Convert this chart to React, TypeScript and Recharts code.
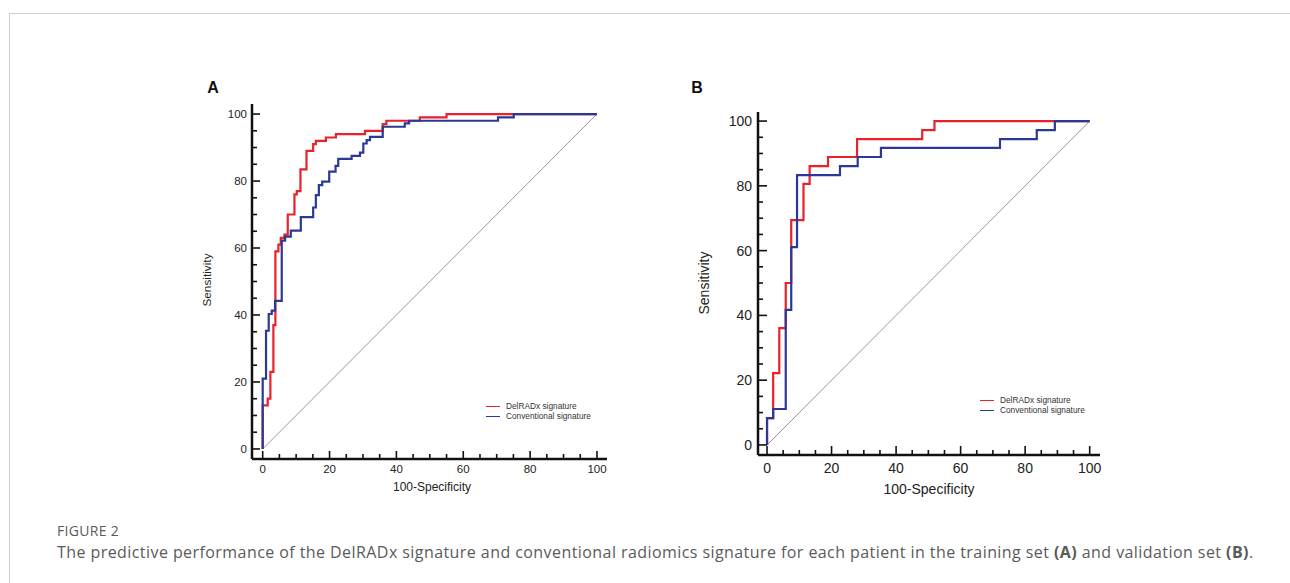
import { LineChart, Line, XAxis, YAxis, Legend } from "recharts";

const FONT = '"Liberation Sans", Arial, Helvetica, sans-serif';
const CAPTION_FONT = '"Open Sans", "Noto Sans", sans-serif';

const AXIS_TICKS = [0, 5, 10, 15, 20, 25, 30, 35, 40, 45, 50, 55, 60, 65, 70, 75, 80, 85, 90, 95, 100];
const CHANCE_X = [0, 100];
const CHANCE_Y = [0, 100];

// training set (A): operating points (100-specificity, sensitivity)
const trainDelX = [0, 0, 1.5, 2.3, 3.2, 3.8, 4.7, 5.4, 6.5, 7.5, 9.5, 10.2, 11.3, 13.1, 15.1, 15.9, 18.9, 21.9, 30.6, 35.9, 37, 47, 55, 100];
const trainDelY = [0, 13, 15, 23, 37, 59, 61, 63, 64, 70, 76, 77, 83.5, 89, 91, 92, 93, 94, 95, 97, 98, 99, 100, 100];
const trainConvX = [0, 0, 1, 1.8, 2.7, 3.7, 5.7, 6.7, 8.4, 11.4, 15.1, 15.9, 16.8, 17.8, 19.9, 21.8, 22.6, 26.6, 29.1, 30.1, 31.1, 32.1, 35.9, 42.5, 43.8, 70.4, 75.1, 100];
const trainConvY = [0, 21, 35.3, 40.3, 41.3, 44.2, 62.2, 63.4, 65.2, 69.2, 72.1, 75.8, 78.8, 79.8, 82.8, 84.5, 86.6, 87.5, 88.5, 91.2, 92.2, 93.2, 96.2, 97.2, 98, 99, 100, 100];

// validation set (B)
const validDelX = [0, 0, 1.9, 3.8, 5.8, 7.5, 11.3, 13.2, 18.9, 27.9, 48.1, 51.9, 100];
const validDelY = [0, 8.3, 22.2, 36.1, 50, 69.4, 80.6, 86.1, 88.9, 94.4, 97.2, 100, 100];
const validConvX = [0, 0, 1.9, 5.8, 7.5, 9.3, 22.6, 28.1, 35.3, 72.2, 83.6, 89.2, 100];
const validConvY = [0, 8.3, 11.1, 41.7, 61.1, 83.3, 86.1, 88.9, 91.7, 94.4, 97.2, 100, 100];

const SERIES_NAMES = ["DelRADx signature", "Conventional signature"];
const RED = "#e8222a";
const BLUE = "#2b3996";
const Y_AXIS_W = 30;
const X_AXIS_H = 30;

const toPoints = (xs: number[], ys: number[]) => xs.map((x, i) => ({ x, y: ys[i] }));

function RocLegend({ payload }: any) {
  const items = SERIES_NAMES.map((n) => (payload || []).find((p: any) => p.value === n)).filter(Boolean);
  return (
    <div style={{ fontFamily: FONT, fontSize: 8.3, color: "#333", lineHeight: "10px" }}>
      {items.map((p: any) => (
        <div key={p.value} style={{ display: "flex", alignItems: "center", whiteSpace: "nowrap" }}>
          <span style={{ width: 14, height: 0, borderTop: `1.6px solid ${p.color}`, marginRight: 6 }} />
          <span>{p.value}</span>
        </div>
      ))}
    </div>
  );
}

type PanelProps = {
  letter: string;
  left: number;
  top: number;
  width: number;
  height: number;
  margin: { top: number; right: number; bottom: number; left: number };
  xDomain: [number, number];
  yDomain: [number, number];
  tickFont: number;
  yMargin: number;
  xMargin: number;
  major: number;
  legend: { left: number; top: number };
  letterPos: { x: number; y: number };
  yTitle: { x: number; y: number; size: number };
  xTitle: { x: number; y: number; size: number };
  del: { x: number; y: number }[];
  conv: { x: number; y: number }[];
};

function RocPanel(p: PanelProps) {
  // axis lines sit at the plot edges; ticks point into the plot
  const axisX = p.margin.left + Y_AXIS_W;
  const axisY = p.height - p.margin.bottom - X_AXIS_H;
  const yTick = (props: any) => {
    const { y, payload } = props;
    const isMajor = payload.value % 20 === 0;
    return (
      <g>
        <line x1={axisX} x2={axisX + (isMajor ? p.major : 5)} y1={y} y2={y} stroke="#111" strokeWidth={1.6} />
        {isMajor && (
          <text x={axisX - p.yMargin} y={y} dy="0.35em" textAnchor="end" fontSize={p.tickFont} fontFamily={FONT} fill="#222">
            {payload.value}
          </text>
        )}
      </g>
    );
  };
  const xTick = (props: any) => {
    const { x, payload } = props;
    const isMajor = payload.value % 20 === 0;
    return (
      <g>
        <line x1={x} x2={x} y1={axisY} y2={axisY - (isMajor ? p.major : 5)} stroke="#111" strokeWidth={1.6} />
        {isMajor && (
          <text x={x} y={axisY + p.xMargin} dy="0.71em" textAnchor="middle" fontSize={p.tickFont} fontFamily={FONT} fill="#222">
            {payload.value}
          </text>
        )}
      </g>
    );
  };
  return (
    <>
      <div style={{ position: "absolute", left: p.left, top: p.top, width: p.width, height: p.height }}>
        <LineChart width={p.width} height={p.height} margin={p.margin}>
          <XAxis
            type="number"
            dataKey="x"
            domain={p.xDomain}
            ticks={AXIS_TICKS}
            interval={0}
            allowDataOverflow
            tickLine={false}
            tick={xTick}
            height={X_AXIS_H}
            axisLine={{ stroke: "#111", strokeWidth: 2.5 }}
          />
          <YAxis
            type="number"
            dataKey="y"
            domain={p.yDomain}
            ticks={AXIS_TICKS}
            interval={0}
            allowDataOverflow
            tickLine={false}
            tick={yTick}
            width={Y_AXIS_W}
            axisLine={{ stroke: "#111", strokeWidth: 2.5 }}
          />
          <Line
            data={toPoints(CHANCE_X, CHANCE_Y)}
            dataKey="y"
            name="chance"
            type="linear"
            stroke="#a8919c"
            strokeWidth={1}
            dot={false}
            activeDot={false}
            legendType="none"
            isAnimationActive={false}
          />
          <Line
            data={p.del}
            dataKey="y"
            name={SERIES_NAMES[0]}
            type="stepAfter"
            stroke={RED}
            strokeWidth={2.2}
            dot={false}
            activeDot={false}
            isAnimationActive={false}
          />
          <Line
            data={p.conv}
            dataKey="y"
            name={SERIES_NAMES[1]}
            type="stepAfter"
            stroke={BLUE}
            strokeWidth={2.2}
            dot={false}
            activeDot={false}
            isAnimationActive={false}
          />
          <Legend
            layout="vertical"
            align="center"
            verticalAlign="middle"
            wrapperStyle={{ left: p.legend.left, top: p.legend.top, width: "auto", height: "auto" }}
            content={<RocLegend />}
          />
        </LineChart>
      </div>
      <div
        style={{
          position: "absolute",
          left: p.letterPos.x,
          top: p.letterPos.y,
          transform: "translate(-50%, -50%)",
          fontFamily: FONT,
          fontWeight: 700,
          fontSize: 16,
          color: "#111",
        }}
      >
        {p.letter}
      </div>
      <div
        style={{
          position: "absolute",
          left: p.yTitle.x,
          top: p.yTitle.y,
          transform: "translate(-50%, -50%) rotate(-90deg)",
          fontFamily: FONT,
          fontSize: p.yTitle.size,
          color: "#222",
          whiteSpace: "nowrap",
        }}
      >
        Sensitivity
      </div>
      <div
        style={{
          position: "absolute",
          left: p.xTitle.x,
          top: p.xTitle.y,
          transform: "translate(-50%, -50%)",
          fontFamily: FONT,
          fontSize: p.xTitle.size,
          color: "#222",
          whiteSpace: "nowrap",
        }}
      >
        100-Specificity
      </div>
    </>
  );
}

export default function App() {
  return (
    <div style={{ position: "absolute", left: 0, top: 0, width: 1290, height: 583, background: "#fff", overflow: "hidden" }}>
      <div style={{ position: "absolute", left: 9, top: 13, right: 0, bottom: 0, borderTop: "1px solid #cfcfcf", borderLeft: "1px solid #cfcfcf" }} />
      <RocPanel
        letter="A"
        left={190}
        top={90}
        width={430}
        height={410}
        margin={{ top: 14, right: 13, bottom: 11, left: 32 }}
        xDomain={[-3.2, 103]}
        yDomain={[-3, 103]}
        tickFont={11.5}
        yMargin={5}
        xMargin={6}
        major={8}
        legend={{ left: 296, top: 311 }}
        letterPos={{ x: 213, y: 88 }}
        yTitle={{ x: 207, y: 280, size: 11.8 }}
        xTitle={{ x: 432, y: 487, size: 12 }}
        del={toPoints(trainDelX, trainDelY)}
        conv={toPoints(trainConvX, trainConvY)}
      />
      <RocPanel
        letter="B"
        left={690}
        top={95}
        width={430}
        height={410}
        margin={{ top: 17, right: 20, bottom: 20, left: 38 }}
        xDomain={[-2.8, 103.2]}
        yDomain={[-3.1, 102.8]}
        tickFont={14}
        yMargin={6}
        xMargin={8}
        major={9}
        legend={{ left: 290, top: 300 }}
        letterPos={{ x: 697, y: 88 }}
        yTitle={{ x: 704, y: 283, size: 14 }}
        xTitle={{ x: 929, y: 489, size: 14 }}
        del={toPoints(validDelX, validDelY)}
        conv={toPoints(validConvX, validConvY)}
      />
      <div style={{ position: "absolute", left: 57, top: 521, fontFamily: CAPTION_FONT, fontSize: 14, color: "#5a5a5a", letterSpacing: 0.3 }}>
        FIGURE 2
      </div>
      <div style={{ position: "absolute", left: 57, top: 541, fontFamily: CAPTION_FONT, fontSize: 16, color: "#5a5a5a", whiteSpace: "nowrap", letterSpacing: 0.43 }}>
        The predictive performance of the DelRADx signature and conventional radiomics signature for each patient in the training set <b>(A)</b> and validation set <b>(B)</b>.
      </div>
    </div>
  );
}
